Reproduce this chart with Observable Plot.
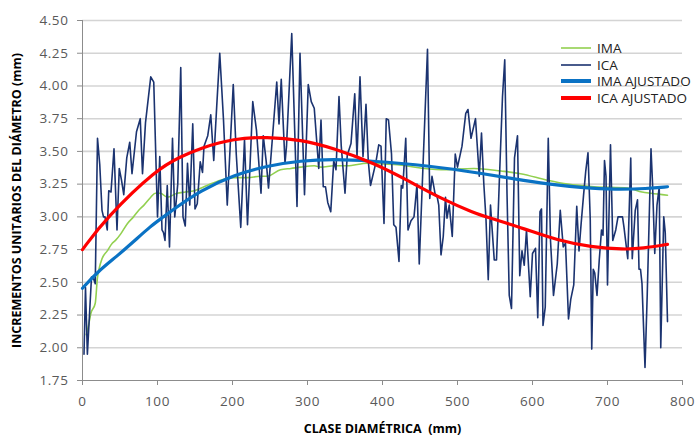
<!DOCTYPE html>
<html>
<head>
<meta charset="utf-8">
<script src="https://cdn.jsdelivr.net/npm/d3@7"></script>
<script src="https://cdn.jsdelivr.net/npm/@observablehq/plot@0.6"></script>
<style>
  html, body { margin: 0; padding: 0; background: #fff; overflow: hidden; }
  #wrap { position: relative; width: 696px; height: 435px; }
  g[aria-label="y-axis label"] text, g[aria-label="x-axis label"] text {
    font-weight: bold; fill: #000; font-size: 12.5px; letter-spacing: 0px;
  }
  #legend { position: absolute; left: 561px; top: 40px; font-family: "Open Sans", sans-serif; font-size: 13.5px; line-height: 16px; color: #222; white-space: nowrap; }
  #legend .row { height: 16.5px; line-height: 16px; display: flex; align-items: center; }
  #legend .sw { width: 30px; margin-right: 6px; }
</style>
</head>
<body>
<div id="wrap"></div>
<script>
const icaX = [2,4,6.5,12,14,17,20,23,26,28,30,33,35,38,42,46,49,52,55,59,63,66,72,77,80,84,91,95,100,103,106,108,110,113,116,120,123,127,131,134,137,140,143,147,150,153,157,160,162,167,171,175,179,183,188,193,201,205,211,216,220,227,232,238,241,245,248,254,259,262,265,270,272,279,286,290,296,301,305,309,315,318,321,324,327,331,335,338,342,345,350,353,358,363,366,370,374,378,381,384,391,395,398,402,405,408,412,415,418,422,425,427,431,434,438,442,446,449,455,460,463,466,470,473,475,478,481,484,486,489,493,497,500,506,511,514,518,524,529,532,535,538,541,544,549,552,556,560,563,566,569,572,576,580,583,586,589,592,597,600,604,607,610,612,614,617,621,624,628,633,637,641,644,648,651,655,659,662,665,668,671,674,677,679,681,683,686,689,692,694,696,698,700,704,707,711,714,717,720,722,727,731,733,737,740,742,744,746,750,753,758,760,763,766,769,771,775,777,780];
const icaY = [1.95,2.46,1.95,2.54,2.54,2.49,3.60,3.40,3.05,3.00,3.00,2.90,3.20,3.19,3.52,2.90,3.37,3.28,3.17,3.45,3.57,3.33,3.65,3.75,3.33,3.72,4.07,4.03,3.00,3.46,2.90,2.88,2.82,3.24,2.77,3.60,3.00,3.25,4.14,3.00,2.93,3.41,3.09,3.71,3.06,3.10,3.42,3.34,3.54,3.62,3.78,3.43,3.85,4.25,3.74,3.09,4.01,3.48,2.92,3.59,2.94,3.88,3.66,3.18,3.62,3.42,3.22,3.66,4.03,3.71,4.05,3.41,3.54,4.40,3.08,4.25,3.17,4.01,3.88,3.83,3.37,3.74,3.23,3.23,3.11,3.04,3.43,3.36,3.92,3.54,3.18,3.47,3.56,3.94,3.46,4.07,3.46,3.86,3.43,3.24,3.41,3.55,3.54,2.95,3.75,3.74,3.48,2.94,2.92,2.66,3.24,3.22,3.60,2.90,2.97,3.00,3.25,2.64,3.54,4.28,3.14,3.31,3.18,3.15,3.09,2.71,2.85,3.15,2.99,3.09,2.85,3.48,3.38,3.54,3.79,3.82,3.60,3.75,3.31,3.64,3.26,2.98,2.52,3.09,2.67,2.67,3.31,3.92,4.20,3.18,2.40,2.30,3.45,3.62,2.55,2.74,2.63,2.90,2.39,2.72,2.76,2.23,3.04,3.06,2.17,2.31,3.60,2.82,2.40,2.64,3.05,2.77,2.80,2.22,2.37,2.48,3.08,2.74,2.96,3.16,3.35,3.49,2.98,1.99,2.60,2.57,2.40,2.67,2.90,2.86,3.43,3.31,2.48,3.55,2.82,2.90,3.00,3.00,3.00,2.92,2.68,3.45,2.68,3.05,3.13,2.60,2.60,2.49,1.85,2.41,3.52,3.26,2.72,3.09,3.23,2.00,3.00,2.88,2.20];

// IMA (mean annual increment)
const imaX = [5,8,11,17,20,22,26,33,40,44,51,60,68,75,82,91,97,104,113,126,137,149,166,184,202,220,237,246,264,278,291,309,318,335,353,380,415,478,522,558,584,620,647,682,727,746,758,780];
const imaY = [2.10,2.17,2.26,2.34,2.54,2.60,2.68,2.74,2.80,2.82,2.87,2.95,3.00,3.05,3.09,3.15,3.18,3.18,3.15,3.18,3.19,3.20,3.24,3.28,3.30,3.30,3.31,3.31,3.36,3.37,3.38,3.39,3.38,3.39,3.39,3.41,3.40,3.36,3.37,3.35,3.33,3.28,3.25,3.23,3.22,3.19,3.18,3.165];

// IMA AJUSTADO (fitted)
const imaFitX = [0,20,46,68,91,108,122,157,202,246,291,335,380,464,535,575,620,670,709,753,780];
const imaFitY = [2.455,2.58,2.70,2.81,2.93,3.00,3.06,3.20,3.32,3.39,3.43,3.44,3.43,3.39,3.33,3.29,3.25,3.22,3.21,3.215,3.23];

// ICA AJUSTADO (fitted)
const icaFitX = [0,31,100,131,157,202,246,291,335,389,433,478,522,544,589,633,678,722,747,780];
const icaFitY = [2.75,2.99,3.37,3.46,3.525,3.60,3.61,3.59,3.525,3.41,3.28,3.14,3.03,2.99,2.91,2.82,2.77,2.75,2.76,2.79];

const yTicks = [1.75,2.00,2.25,2.50,2.75,3.00,3.25,3.50,3.75,4.00,4.25,4.50];
const xTicks = [0,100,200,300,400,500,600,700,800];

const seriesNames = ["IMA","ICA","IMA AJUSTADO","ICA AJUSTADO"];
const seriesColors = ["#92d050","#1b3370","#0a72c4","#ff0000"];
const seriesWidths = [1.6,1.6,3.2,3.2];

const zip = (xs, ys) => xs.map((x, i) => ({x, y: ys[i]}));
const ica = zip(icaX, icaY), ima = zip(imaX, imaY), imaFit = zip(imaFitX, imaFitY), icaFit = zip(icaFitX, icaFitY);

const chart = Plot.plot({
  width: 696, height: 435,
  marginLeft: 82, marginRight: 14, marginTop: 20, marginBottom: 55,
  style: {fontFamily: "'Open Sans', sans-serif", fontSize: "13.5px", color: "#595959", background: "#fff", letterSpacing: "0.6px"},
  x: {domain: [0, 800]},
  y: {domain: [1.75, 4.5]},
  marks: [
    Plot.ruleY(yTicks.slice(1), {stroke: "#d4d4d4", strokeWidth: 1.6}),
    Plot.ruleY([1.75], {stroke: "#8c8c8c", strokeWidth: 1}),
    Plot.ruleX([0], {stroke: "#8c8c8c", strokeWidth: 1}),
    Plot.axisY({ticks: yTicks, tickFormat: d3.format(".2f"), tickSize: 5, tickPadding: 9,
      label: "INCREMENTOS UNITARIOS DEL DIÁMETRO (mm)", labelAnchor: "center", labelOffset: 70, labelArrow: "none", stroke: "#8c8c8c"}),
    Plot.axisX({ticks: xTicks, tickSize: 5, tickPadding: 11,
      label: "CLASE DIAMÉTRICA  (mm)", labelAnchor: "center", labelOffset: 52, labelArrow: "none", stroke: "#8c8c8c"}),
    Plot.line(ima, {x: "x", y: "y", stroke: seriesColors[0], strokeWidth: seriesWidths[0], curve: "monotone-x"}),
    Plot.line(ica, {x: "x", y: "y", stroke: seriesColors[1], strokeWidth: seriesWidths[1], strokeLinejoin: "round"}),
    Plot.line(imaFit, {x: "x", y: "y", stroke: seriesColors[2], strokeWidth: seriesWidths[2], curve: "basis"}),
    Plot.line(icaFit, {x: "x", y: "y", stroke: seriesColors[3], strokeWidth: seriesWidths[3], curve: "basis"})
  ]
});
const wrap = document.getElementById("wrap");
wrap.appendChild(chart);

const legend = document.createElement("div");
legend.id = "legend";
seriesNames.forEach((name, i) => {
  const row = document.createElement("div");
  row.className = "row";
  row.innerHTML = `<svg class="sw" width="30" height="8"><line x1="0" x2="30" y1="4" y2="4" stroke="${seriesColors[i]}" stroke-width="${seriesWidths[i] + (i > 1 ? 0.8 : 0)}"/></svg><span>${name}</span>`;
  legend.appendChild(row);
});
wrap.appendChild(legend);
</script>
</body>
</html>
